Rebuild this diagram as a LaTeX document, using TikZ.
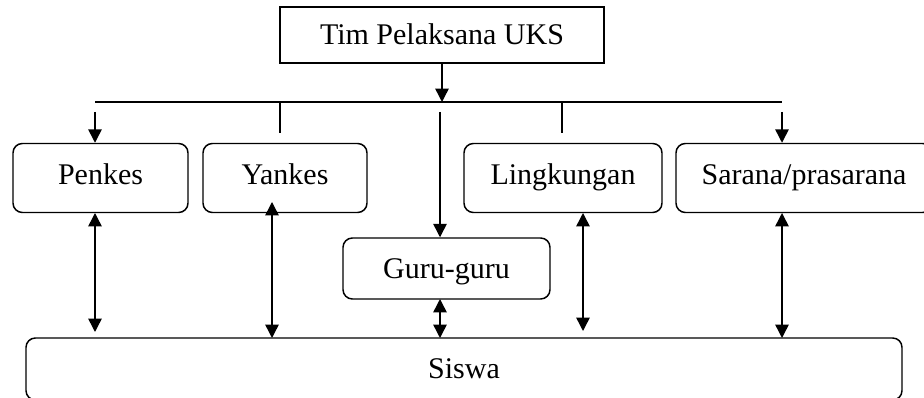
\documentclass[tikz,border=0pt]{standalone}
\usepackage{fontspec}
\setmainfont{Liberation Serif}
\usetikzlibrary{arrows.meta,positioning,calc}

\tikzset{
  unit/.style={draw, line width=1.1pt, rounded corners=7pt, align=center, inner sep=0pt, text height=15pt, text depth=0pt},
  rowunit/.style={unit, text depth=4.5pt, minimum height=69*0.75pt},
  head/.style={draw, line width=1.1pt, align=center, inner sep=0pt, text height=15pt, text depth=0pt},
  tip/.style={line width=1.1pt, -{Triangle[length=10pt,width=10pt]}},
  both/.style={line width=1.1pt, {Triangle[length=10pt,width=10pt]}-{Triangle[length=10pt,width=10pt]}},
  bar/.style={line width=1.1pt}
}

\begin{document}
\begin{tikzpicture}[x=0.75pt, y=-0.75pt, font=\fontsize{22.5}{27}\selectfont]
  \useasboundingbox (0,0) rectangle (924,398);

  % Top box
  \node[head, minimum width=324*0.75pt, minimum height=56*0.75pt] (tim) at (442,35) {Tim Pelaksana UKS};

  % Units
  \node[rowunit, minimum width=175*0.75pt] (penkes) at (100.5,178) {Penkes};
  \node[rowunit, minimum width=164*0.75pt] (yankes) at (285,178) {Yankes};
  \node[rowunit, minimum width=198*0.75pt] (lingk) at (563,178) {Lingkungan};
  \node[rowunit, minimum width=256*0.75pt] (sarana) at (804,178) {Sarana/prasarana};
  \node[unit, minimum width=207*0.75pt, minimum height=61*0.75pt] (guru) at (446.5,268.5) {Guru-guru};
  \node[unit, minimum width=876*0.75pt, minimum height=62*0.75pt] (siswa) at (464,369) {Siswa};

  % Bus line
  \coordinate (busL) at (95,102);
  \coordinate (busR) at (782,102);
  \coordinate (busM) at (tim.south |- busL);
  \draw[bar] (busL) -- (busR);
  \draw[tip] (tim.south) -- (busM);

  % Branches from the bus
  \coordinate (dropL) at (95,112);
  \coordinate (dropM) at (440,112);
  \coordinate (dropR) at (782,112);
  \draw[tip] (dropL) -- (dropL |- penkes.north);
  \draw[tip] (dropM) -- (dropM |- guru.north);
  \draw[tip] (dropR) -- (dropR |- sarana.north);
  \draw[bar] (280,102) -- (280,133);
  \draw[bar] (562,102) -- (562,133);

  % Links to Siswa
  \draw[both] (95,213) -- (95,332);
  \draw[both] (272,202) -- (272,338);
  \draw[both] (440,299) -- (440,338);
  \draw[both] (583,213) -- (583,331);
  \draw[both] (782,213) -- (782,338);
\end{tikzpicture}
\end{document}
